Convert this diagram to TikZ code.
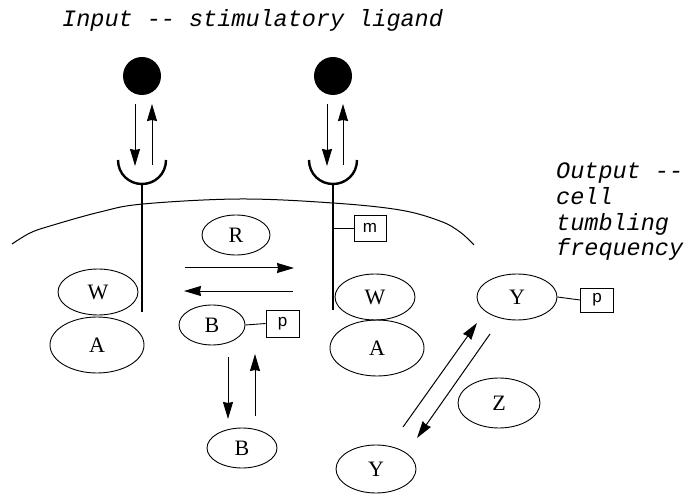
\documentclass[tikz,border=0pt]{standalone}
\usepackage{fontspec}
\setmainfont{Liberation Serif}
\setsansfont{Liberation Sans}
\setmonofont{Liberation Mono}
\usetikzlibrary{shapes.geometric,arrows.meta}

\begin{document}
\begin{tikzpicture}[x=1pt,y=-1pt,
  prot/.style={draw, ellipse, line width=0.9pt, inner sep=0pt,
               font=\fontsize{22}{22}\selectfont},
  tagbox/.style={draw, rectangle, line width=0.9pt, inner sep=0pt,
                 minimum width=32pt, minimum height=26pt,
                 font=\sffamily\fontsize{17}{17}\selectfont},
  ligand/.style={circle, fill=black, inner sep=0pt, minimum size=38pt},
  arr/.style={line width=1pt, -{Stealth[length=17pt,width=10pt,inset=1pt]}},
  rod/.style={line width=2.4pt},
  link/.style={line width=0.9pt},
  note/.style={font=\ttfamily\itshape\fontsize{23.5}{25.7}\selectfont,
               align=left, inner sep=0pt}
]
\useasboundingbox (0,0) rectangle (685,494);

% captions
\node[note, anchor=base west] (inlabel) at (62,27) {Input -{}- stimulatory ligand};
\node[note, anchor=base west] (outlabel) at (556,256)
  {Output -{}-\\cell\\tumbling\\frequency};

% ligands
\node[ligand] (L1) at (142,76) {};
\node[ligand] (L2) at (333,76) {};

% receptor cups and stems
\coordinate (cup1) at (142,184);
\coordinate (cup2) at (333,184);
\coordinate (stem1) at (142,312);
\coordinate (stem2) at (333,310);
\draw[rod] (118,160) .. controls (118,174) and (129,184) .. (cup1)
           .. controls (155,184) and (166,174) .. (166,160);
\draw[rod] (309,160) .. controls (309,174) and (320,184) .. (cup2)
           .. controls (346,184) and (357,174) .. (357,160);
\draw[rod] (cup1) -- (stem1);
\draw[rod] (cup2) -- (stem2);

% binding arrows between ligand and receptor
\coordinate (b1a) at (135,104); \coordinate (b1b) at (135,166);
\coordinate (b1c) at (152,165); \coordinate (b1d) at (152,104);
\coordinate (b2a) at (327,104); \coordinate (b2b) at (327,166);
\coordinate (b2c) at (343,165); \coordinate (b2d) at (343,104);
\draw[arr] (b1a) -- (b1b);
\draw[arr] (b1c) -- (b1d);
\draw[arr] (b2a) -- (b2b);
\draw[arr] (b2c) -- (b2d);

% cell membrane
\draw[line width=1pt] plot[smooth, tension=0.6] coordinates
  {(12,244) (30,233) (50,226) (100,212) (143,204) (240,199) (333,203)
   (400,210) (440,221) (460,232) (474,245)};

% methylation tag
\node[tagbox] (m) at (370,228) {m};
\coordinate (mroot) at (333,228);
\draw[link] (mroot) -- (m.west);

% proteins
\node[prot, minimum width=68pt, minimum height=40pt] (R) at (236,235) {R};
\node[prot, minimum width=80pt, minimum height=46pt] (W1) at (98,292) {W};
\node[prot, minimum width=94pt, minimum height=56pt] (A1) at (97,345) {A};
\node[prot, minimum width=80pt, minimum height=46pt] (W2) at (375,297) {W};
\node[prot, minimum width=94pt, minimum height=56pt] (A2) at (377,348) {A};
\node[prot, minimum width=66pt, minimum height=40pt] (Bp) at (212,325) {B};
\node[prot, minimum width=70pt, minimum height=40pt] (B) at (242,448) {B};
\node[prot, minimum width=80pt, minimum height=46pt] (Yp) at (517,297) {Y};
\node[prot, minimum width=80pt, minimum height=48pt] (Y) at (376,469) {Y};
\node[prot, minimum width=82pt, minimum height=50pt] (Z) at (499,403) {Z};

% phosphate tags
\node[tagbox, minimum width=33pt, minimum height=27pt] (pB) at (282.5,323.5) {p};
\node[tagbox, minimum width=33pt, minimum height=24pt] (pY) at (597,300) {p};
\draw[link] (Bp.east) -- (pB.west);
\draw[link] (Yp.east) -- (pY.west);

% R-mediated transfer between the receptors
\coordinate (h1) at (185,268); \coordinate (h2) at (294,268);
\coordinate (h3) at (293,291); \coordinate (h4) at (184,291);
\draw[arr] (h1) -- (h2);
\draw[arr] (h3) -- (h4);

% B phosphorylation cycle
\coordinate (v1) at (228,357); \coordinate (v2) at (228,419);
\coordinate (v3) at (255,416); \coordinate (v4) at (255,354);
\draw[arr] (v1) -- (v2);
\draw[arr] (v3) -- (v4);

% Y phosphorylation cycle
\coordinate (d1) at (403,427); \coordinate (d2) at (477,323);
\coordinate (d3) at (490,334); \coordinate (d4) at (417,438);
\draw[arr] (d1) -- (d2);
\draw[arr] (d3) -- (d4);
\end{tikzpicture}
\end{document}
